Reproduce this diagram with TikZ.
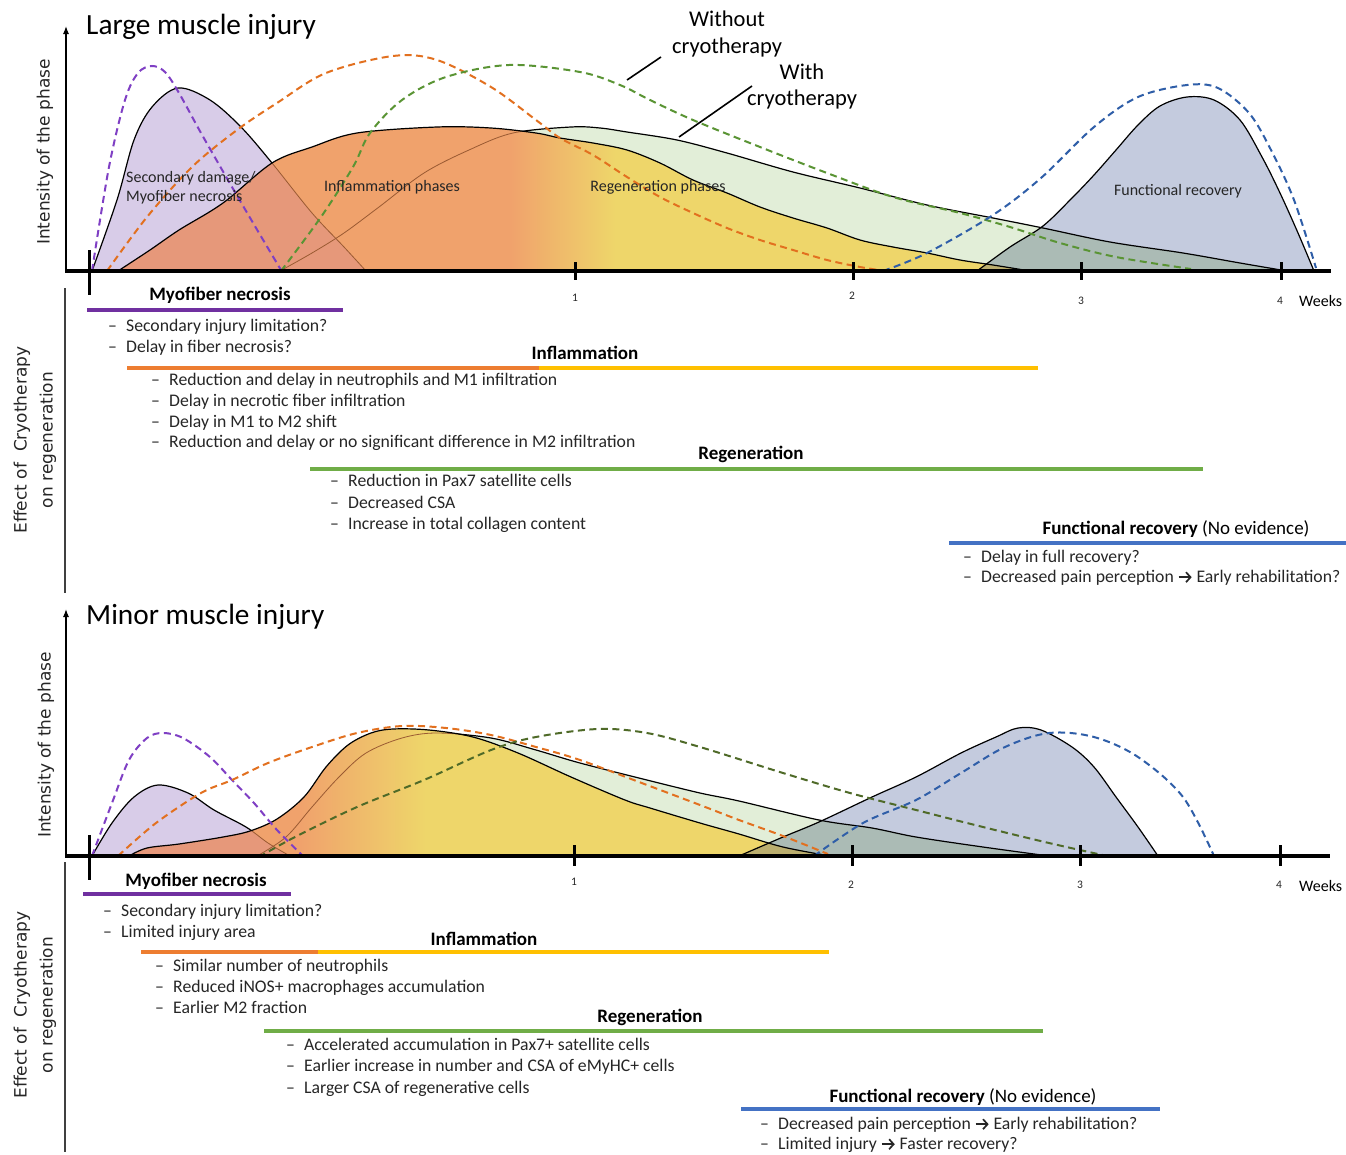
\documentclass[tikz,border=0pt]{standalone}
\usepackage{fontspec}
\setmainfont{Carlito}
\newfontfamily\axfont{DejaVu Sans}
\usetikzlibrary{arrows.meta}
\definecolor{cpurple}{HTML}{7030A0}
\definecolor{cpurpled}{HTML}{7F3FC4}
\definecolor{corange}{HTML}{ED7D31}
\definecolor{corangedash}{HTML}{E2701F}
\definecolor{cyellow}{HTML}{FFC000}
\definecolor{cgreen}{HTML}{70AD47}
\definecolor{cgreendash}{HTML}{5A9434}
\definecolor{colivedash}{HTML}{4F6A28}
\definecolor{cblue}{HTML}{4472C4}
\definecolor{cbluedash}{HTML}{2F5EA8}
\definecolor{fpurple}{HTML}{D8CCE8}
\definecolor{forange}{HTML}{F0A26C}
\definecolor{fyellow}{HTML}{EED66A}
\definecolor{fgreen}{HTML}{E2EED8}
\definecolor{fblue}{HTML}{C4CBDE}
\definecolor{fsalmon}{HTML}{E6987A}
\definecolor{fgraygreen}{HTML}{ABBBB5}
\definecolor{folive}{HTML}{BBAE6E}
\definecolor{hidden}{HTML}{9A5A32}
\definecolor{txt}{HTML}{262626}

% ---------- curve definitions (pixel coordinates, y downward) ----------
\newcommand\PUa{plot[smooth,tension=.55] coordinates {(92,271) (117,200) (134,140) (152,107) (178,88) (210,100) (241,127) (272,163) (312,213) (344,247) (366,271)}}
\newcommand\PUad{plot[smooth,tension=.55] coordinates {(92,271) (109,167) (125,100) (138,73) (152,66) (165,72) (179,93) (201,133) (232,187) (259,233) (281,270)}}
\newcommand\GRa{plot[smooth,tension=.55] coordinates {(280,271) (312,253) (344,233) (379,207) (424,173) (469,150) (513,133) (571,127) (600,128) (627,132) (677,140) (727,153) (793,172) (860,188) (927,205) (993,218) (1043,228) (1110,242) (1183,253) (1240,263) (1281,270)}}
\newcommand\GRad{plot[smooth,tension=.55] coordinates {(281,271) (321,217) (353,167) (370,133) (402,100) (446,77) (509,65) (580,72) (620,85) (650,100) (693,120) (760,147) (827,173) (893,197) (960,213) (1010,227) (1060,243) (1116,257) (1191,269)}}
\newcommand\ORa{plot[smooth,tension=.55] coordinates {(118,271) (150,250) (179,230) (223,203) (272,163) (312,147) (357,133) (437,127) (491,128) (536,133) (560,138) (593,143) (627,150) (660,163) (693,180) (727,193) (760,207) (793,218) (827,228) (860,240) (893,247) (927,253) (960,260) (993,265) (1030,271)}}
\newcommand\ORad{plot[smooth,tension=.55] coordinates {(107,271) (147,217) (192,167) (237,130) (277,103) (326,73) (393,56) (437,60) (491,87) (536,120) (560,138) (593,155) (627,177) (660,197) (693,213) (727,228) (760,240) (793,250) (827,260) (860,267) (885,271)}}
\newcommand\BLa{plot[smooth,tension=.55] coordinates {(977,271) (1010,247) (1043,226) (1072,198) (1094,175) (1116,150) (1138,125) (1160,106) (1187,97) (1214,100) (1240,120) (1262,157) (1280,193) (1298,233) (1314,271)}}
\newcommand\BLad{plot[smooth,tension=.55] coordinates {(883,271) (927,253) (993,215) (1041,178) (1094,127) (1138,97) (1187,85) (1218,88) (1249,113) (1271,150) (1294,200) (1316,268)}}
% bottom
\newcommand\PUb{plot[smooth,tension=.55] coordinates {(92,856) (112,823) (134,797) (158,785) (188,793) (214,810) (246,827) (268,843) (290,856)}}
\newcommand\PUbd{plot[smooth,tension=.55] coordinates {(92,856) (112,803) (129,760) (147,738) (163,733) (183,738) (210,757) (232,780) (254,803) (277,830) (304,857)}}
\newcommand\GRb{plot[smooth,tension=.55] coordinates {(257,856) (286,837) (312,807) (339,777) (366,753) (402,738) (437,733) (491,738) (536,750) (580,763) (647,780) (700,793) (739,801) (819,820) (872,828) (916,837) (983,847) (1049,856)}}
\newcommand\GRbd{plot[smooth,tension=.55] coordinates {(259,857) (295,837) (357,807) (424,780) (491,750) (536,737) (598,729) (647,733) (700,747) (783,773) (850,793) (916,810) (983,827) (1049,843) (1107,856)}}
\newcommand\ORb{plot[smooth,tension=.55] coordinates {(129,856) (147,848) (179,844) (223,837) (250,831) (277,819) (304,797) (326,767) (348,745) (371,733) (393,729) (429,730) (473,737) (518,753) (571,777) (625,800) (650,808) (700,823) (739,834) (783,847) (830,856)}}
\newcommand\ORbd{plot[smooth,tension=.55] coordinates {(118,856) (156,823) (201,793) (232,780) (268,763) (312,747) (357,733) (402,726) (446,728) (491,735) (536,747) (580,760) (647,785) (700,805) (739,820) (783,836) (828,854)}}
\newcommand\BLb{plot[smooth,tension=.55] coordinates {(739,856) (783,837) (819,822) (872,797) (916,777) (961,753) (996,737) (1018,728) (1041,730) (1072,747) (1094,767) (1116,797) (1138,827) (1158,856)}}
\newcommand\BLbd{plot[smooth,tension=.55] coordinates {(814,856) (863,823) (916,800) (961,773) (1005,747) (1049,733) (1094,737) (1138,757) (1183,797) (1214,856)}}

\newcommand\itemdash{\makebox[18pt][l]{–}}
\newcommand\rarr{\tikz[baseline=0pt]\draw[line width=1.7pt, txt, -{Straight Barb[length=4.5pt,width=10pt]}] (0pt,4.8pt) -- (13pt,4.8pt);}

\tikzset{
  outl/.style={black, line width=1.2pt},
  hidl/.style={hidden, line width=0.8pt},
  dsh/.style={line width=2pt, dash pattern=on 7pt off 4.5pt},
  axisline/.style={line width=3.5pt},
  tickmark/.style={line width=3pt},
  phasebar/.style={line width=4pt},
  hdr/.style={font=\bfseries\fontsize{19}{22}\selectfont, inner sep=0pt, text=black},
  itm/.style={font=\fontsize{17.7}{21}\selectfont, anchor=west, inner sep=0pt, text height=11pt, text depth=3pt, text=txt},
  lbl/.style={font=\fontsize{16}{19}\selectfont, text=txt, inner sep=0pt},
  ttl/.style={font=\fontsize{29.3}{32}\selectfont, anchor=west, inner sep=0pt, text=black},
  rotlbl/.style={font=\axfont\fontsize{17}{26}\selectfont, rotate=90, inner sep=0pt, align=center, text=txt},
  wk/.style={font=\fontsize{11.5}{13}\selectfont, inner sep=0pt, text=txt},
  weeks/.style={font=\fontsize{16}{19}\selectfont, inner sep=0pt, text=black},
  cryo/.style={font=\fontsize{22.5}{26}\selectfont, inner sep=0pt, align=center, text=black},
  leader/.style={black, line width=1.6pt},
  axarrow/.style={line width=1.2pt, -{Latex[length=8pt,width=6pt]}},
  sideline/.style={line width=1.5pt, black!75},
}

\begin{document}
\begin{tikzpicture}[x=1pt,y=-1pt]
\useasboundingbox (0,0) rectangle (1346,1154);
\fill[white] (0,0) rectangle (1346,1154);

%================ TOP CHART =================
\fill[fpurple] \PUa -- cycle;
\fill[fgreen] \GRa -- cycle;
\draw[outl] \PUa;
\draw[outl] \GRa;
\begin{scope}
  \clip \ORa -- cycle;
  \fill[forange] (100,0) rectangle (511,280);
  \shade[left color=forange, right color=fyellow] (510,0) rectangle (616,280);
  \fill[fyellow] (615,0) rectangle (1100,280);
  \fill[fsalmon] \PUa -- cycle;
  \draw[hidl] \PUa;
  \draw[hidl] \GRa;
\end{scope}
\draw[outl] \ORa;
\fill[fblue] \BLa -- cycle;
\begin{scope}
  \clip \BLa -- cycle;
  \fill[fgraygreen] \GRa -- cycle;
  \fill[folive] \ORa -- cycle;
  \draw[outl] \GRa;
  \draw[outl] \ORa;
\end{scope}
\draw[outl] \BLa;

\draw[dsh, cpurpled] \PUad;
\draw[dsh, corangedash] \ORad -- (961,271);
\draw[dsh, cgreendash] \GRad;
\draw[dsh, cbluedash] \BLad;

% axes
\draw[axisline] (65,271) -- (1331,271);
\draw[axarrow] (66,271) -- (66,26);
\draw[tickmark] (89,250) -- (89,295);
\draw[tickmark] (575,262) -- (575,280);
\draw[tickmark] (853,262) -- (853,280);
\draw[tickmark] (1081,262) -- (1081,280);
\draw[tickmark] (1281,262) -- (1281,280);
\node[wk] (a1w1) at (575,298) {1};
\node[wk] (a1w2) at (852,296) {2};
\node[wk] (a1w3) at (1081,301) {3};
\node[wk] (a1w4) at (1280,301) {4};
\node[weeks, anchor=west] (a1wk) at (1299,301) {Weeks};

\node[ttl] (t1) at (86,27) {Large muscle injury};
\node[rotlbl] (y1) at (45,152) {Intensity of the phase};

\node[lbl, anchor=west, align=left] (c1p) at (126,188) {Secondary damage/\\Myofiber necrosis};
\node[lbl] (c1o) at (392,187) {Inflammation phases};
\node[lbl] (c1g) at (658,187) {Regeneration phases};
\node[lbl] (c1b) at (1178,191) {Functional recovery};

\node[cryo] (wo) at (727,34) {Without\\cryotherapy};
\node[cryo] (wi) at (802,86) {With\\cryotherapy};
\coordinate (wo1) at (661,57);
\coordinate (wo2) at (627,80);
\coordinate (wi1) at (752,86);
\coordinate (wi2) at (679,137);
\draw[leader] (wo1) -- (wo2);
\draw[leader] (wi1) -- (wi2);

% effects (top)
\draw[sideline] (65,288) -- (65,593);
\node[rotlbl] (e1) at (35,440) {Effect of~ Cryotherapy\\on regeneration};

\node[hdr] (h1a) at (220,295) {Myofiber necrosis};
\draw[phasebar, cpurple] (87,310) -- (343,310);
\node[itm] (i1a1) at (108,327) {\itemdash Secondary injury limitation?};
\node[itm] (i1a2) at (108,348) {\itemdash Delay in fiber necrosis?};

\node[hdr] (h1b) at (585,353) {Inflammation};
\draw[phasebar, corange] (127,368) -- (541,368);
\draw[phasebar, cyellow] (539,368) -- (1038,368);
\node[itm] (i1b1) at (151,381) {\itemdash Reduction and delay in neutrophils and M1 infiltration};
\node[itm] (i1b2) at (151,402) {\itemdash Delay in necrotic fiber infiltration};
\node[itm] (i1b3) at (151,423) {\itemdash Delay in M1 to M2 shift};
\node[itm] (i1b4) at (151,443) {\itemdash Reduction and delay or no significant difference in M2 infiltration};

\node[hdr] (h1c) at (751,454) {Regeneration};
\draw[phasebar, cgreen] (310,469) -- (1203,469);
\node[itm] (i1c1) at (330,482) {\itemdash Reduction in Pax7 satellite cells};
\node[itm] (i1c2) at (330,504) {\itemdash Decreased CSA};
\node[itm] (i1c3) at (330,525) {\itemdash Increase in total collagen content};

\node[hdr] (h1d) at (1176,529) {Functional recovery \mdseries(No evidence)};
\draw[phasebar, cblue] (949,543) -- (1346,543);
\node[itm] (i1d1) at (963,558) {\itemdash Delay in full recovery?};
\node[itm] (i1d2) at (963,578) {\itemdash Decreased pain perception \rarr{} Early rehabilitation?};

%================ BOTTOM CHART =================
\fill[fpurple] \PUb -- cycle;
\fill[fgreen] \GRb -- cycle;
\draw[outl] \PUb;
\draw[outl] \GRb;
\begin{scope}
  \clip \ORb -- cycle;
  \fill[forange] (100,700) rectangle (301,870);
  \shade[left color=forange, right color=fyellow] (300,700) rectangle (426,870);
  \fill[fyellow] (425,700) rectangle (900,870);
  \fill[fsalmon] \PUb -- cycle;
  \draw[hidl] \PUb;
  \draw[hidl] \GRb;
\end{scope}
\draw[outl] \ORb;
\fill[fblue] \BLb -- cycle;
\begin{scope}
  \clip \BLb -- cycle;
  \fill[fgraygreen] \GRb -- cycle;
  \fill[folive] \ORb -- cycle;
  \draw[outl] \GRb;
  \draw[outl] \ORb;
\end{scope}
\draw[outl] \BLb;

\draw[dsh, cpurpled] \PUbd;
\draw[dsh, corangedash] \ORbd;
\draw[dsh, colivedash] \GRbd;
\draw[dsh, cbluedash] \BLbd;

\draw[axisline] (65,856) -- (1330,856);
\draw[axarrow] (66,856) -- (66,609);
\draw[tickmark] (89,835) -- (89,880);
\draw[tickmark] (574,845) -- (574,866);
\draw[tickmark] (852,845) -- (852,866);
\draw[tickmark] (1080,845) -- (1080,866);
\draw[tickmark] (1280,845) -- (1280,866);
\node[wk] (a2w1) at (574,882) {1};
\node[wk] (a2w2) at (851,885) {2};
\node[wk] (a2w3) at (1080,885) {3};
\node[wk] (a2w4) at (1279,885) {4};
\node[weeks, anchor=west] (a2wk) at (1299,886) {Weeks};

\node[ttl] (t2) at (86,617) {Minor muscle injury};
\node[rotlbl] (y2) at (46,745) {Intensity of the phase};

\draw[sideline] (65,862) -- (65,1152);
\node[rotlbl] (e2) at (35,1005) {Effect of~ Cryotherapy\\on regeneration};

\node[hdr] (h2a) at (196,881) {Myofiber necrosis};
\draw[phasebar, cpurple] (83,894) -- (291,894);
\node[itm] (i2a1) at (103,912) {\itemdash Secondary injury limitation?};
\node[itm] (i2a2) at (103,933) {\itemdash Limited injury area};

\node[hdr] (h2b) at (484,939) {Inflammation};
\draw[phasebar, corange] (141,952) -- (320,952);
\draw[phasebar, cyellow] (318,952) -- (829,952);
\node[itm] (i2b1) at (155,967) {\itemdash Similar number of neutrophils};
\node[itm] (i2b2) at (155,988) {\itemdash Reduced iNOS+ macrophages accumulation};
\node[itm] (i2b3) at (155,1009) {\itemdash Earlier M2 fraction};

\node[hdr] (h2c) at (650,1017) {Regeneration};
\draw[phasebar, cgreen] (264,1031) -- (1043,1031);
\node[itm] (i2c1) at (286,1046) {\itemdash Accelerated accumulation in Pax7+ satellite cells};
\node[itm] (i2c2) at (286,1067) {\itemdash Earlier increase in number and CSA of eMyHC+ cells};
\node[itm] (i2c3) at (286,1089) {\itemdash Larger CSA of regenerative cells};

\node[hdr] (h2d) at (963,1097) {Functional recovery \mdseries(No evidence)};
\draw[phasebar, cblue] (741,1109) -- (1160,1109);
\node[itm] (i2d1) at (760,1125) {\itemdash Decreased pain perception \rarr{} Early rehabilitation?};
\node[itm] (i2d2) at (760,1145) {\itemdash Limited injury \rarr{} Faster recovery?};
\end{tikzpicture}
\end{document}
